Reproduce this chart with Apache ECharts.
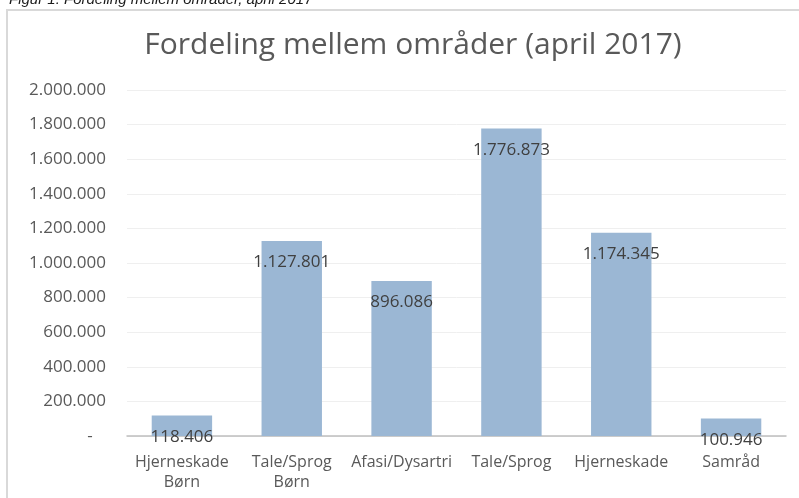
<!DOCTYPE html>
<html>
<head>
<meta charset="utf-8">
<script src="https://cdn.jsdelivr.net/npm/echarts@6/dist/echarts.min.js"></script>
<style>html,body{margin:0;padding:0;background:#fff}#c{width:799px;height:498px}</style>
</head>
<body>
<div id="c"></div>
<script>
var categories = ['Hjerneskade\nBørn', 'Tale/Sprog\nBørn', 'Afasi/Dysartri', 'Tale/Sprog', 'Hjerneskade', 'Samråd'];
var values = [118406, 1127801, 896086, 1776873, 1174345, 100946];
var titleText = 'Fordeling mellem områder (april 2017)';
var captionText = 'Figur 1: Fordeling mellem områder, april 2017';

function fmt(v) {
  if (v === 0) return '-   ';
  return String(Math.round(v)).replace(/\B(?=(\d{3})+(?!\d))/g, '.');
}

var font = '"Open Sans", sans-serif';
var chart = echarts.init(document.getElementById('c'), null, {renderer: 'canvas'});
chart.setOption({
  animation: false,
  backgroundColor: '#ffffff',
  title: {
    text: titleText,
    left: 408,
    textAlign: 'center',
    top: 25,
    textStyle: {fontFamily: font, fontSize: 30, fontWeight: 'normal', color: '#595959'}
  },
  graphic: [
    {type: 'rect', shape: {x: 7, y: 10, width: 900, height: 600}, style: {fill: 'none', stroke: '#d9d9d9', lineWidth: 2}, z: 0},
    {type: 'text', x: 9, y: 7, style: {text: captionText, fill: '#1a1a1a', font: 'italic 15px "Liberation Sans", Arial, sans-serif', verticalAlign: 'bottom'}, z: 10}
  ],
  grid: {left: 127, right: 13, top: 90, bottom: 62, containLabel: false},
  xAxis: {
    type: 'category',
    data: categories,
    axisLine: {lineStyle: {color: '#bfbfbf', width: 1.5}},
    axisTick: {show: false},
    axisLabel: {fontFamily: font, fontSize: 16, color: '#595959', lineHeight: 20, margin: 16, interval: 0}
  },
  yAxis: {
    type: 'value',
    min: 0,
    max: 2000000,
    interval: 200000,
    axisLine: {show: false},
    axisTick: {show: false},
    splitLine: {lineStyle: {color: '#efefef', width: 1}},
    axisLabel: {fontFamily: font, fontSize: 17, color: '#595959', margin: 21, formatter: fmt}
  },
  series: [{
    type: 'bar',
    data: values,
    barWidth: '55%',
    itemStyle: {color: '#9bb7d4'},
    label: {
      show: true,
      position: 'insideTop',
      distance: 13,
      fontFamily: font,
      fontSize: 17,
      lineHeight: 17,
      color: '#404040',
      formatter: function (p) { return fmt(p.value); }
    }
  }]
});
</script>
</body>
</html>
